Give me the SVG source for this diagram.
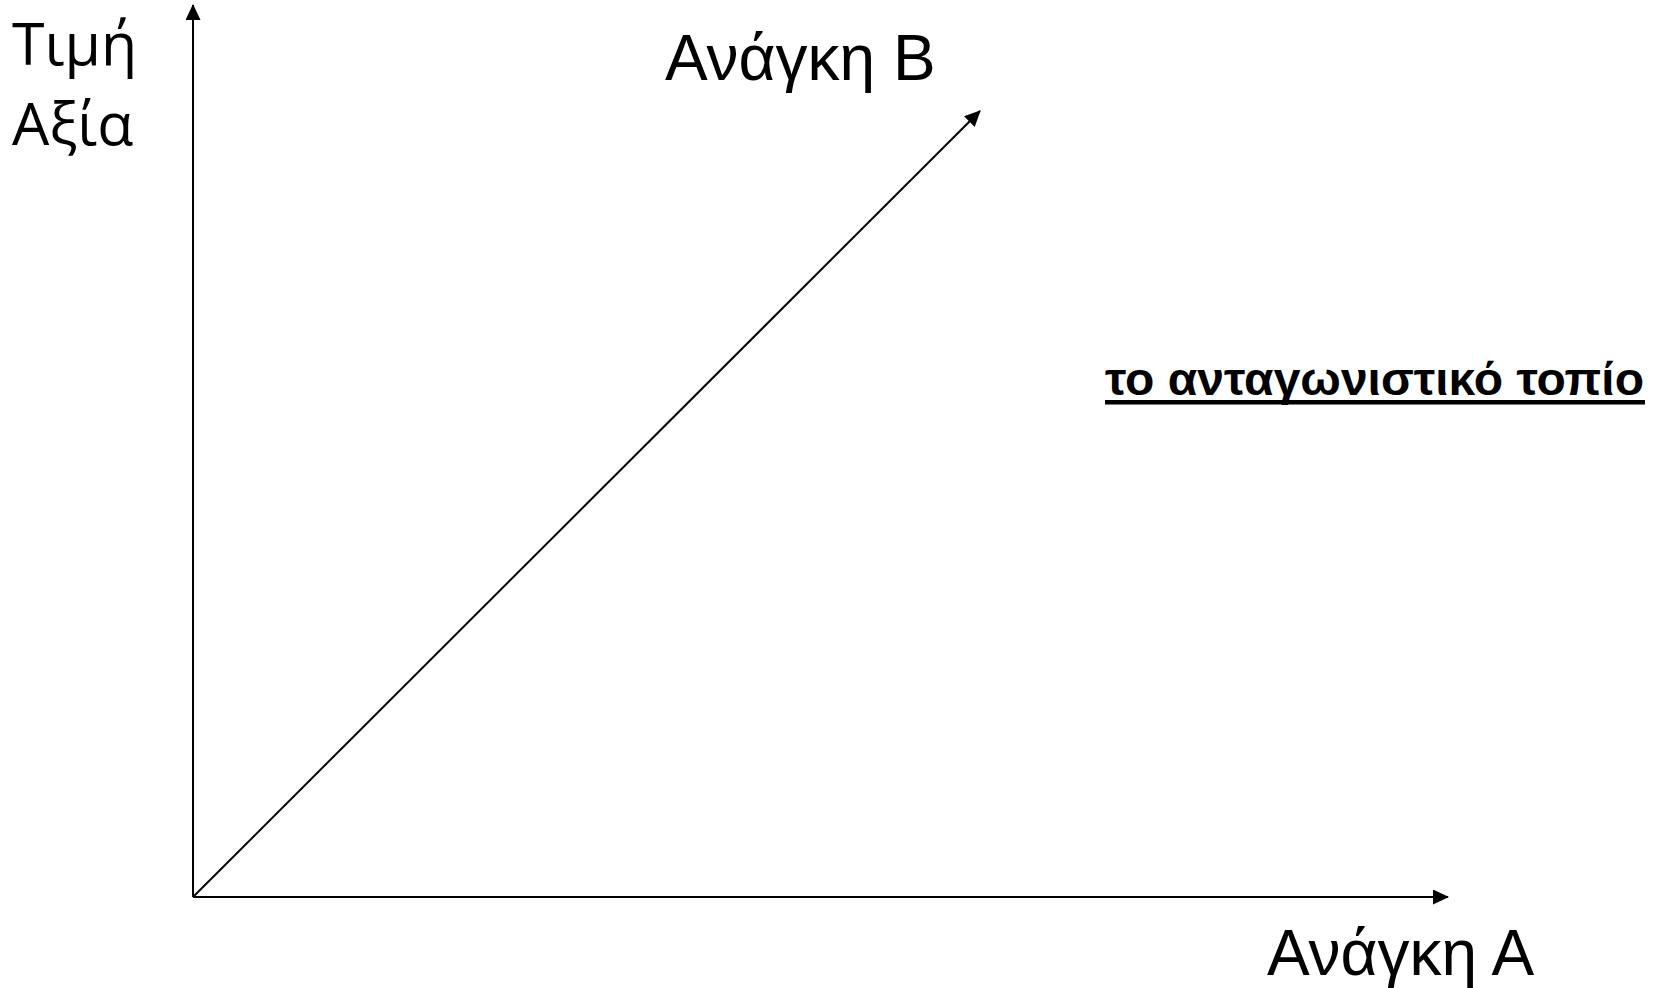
<svg xmlns="http://www.w3.org/2000/svg" width="1659" height="988" viewBox="0 0 1659 988">
<defs>
<marker id="arr" markerUnits="userSpaceOnUse" markerWidth="16" markerHeight="15" refX="15" refY="7.5" orient="auto">
<path d="M0,0 L16,7.5 L0,15 z" fill="#000"/>
</marker>
<style>
.ax{stroke:#000;stroke-width:2;fill:none}
.lbl{font-family:"Liberation Sans",Arial,sans-serif;font-size:64px;fill:#000}
.ylbl{font-family:"Open Sans","Noto Sans",sans-serif;font-size:59px;fill:#000}
.ttl{font-family:"Liberation Sans",Arial,sans-serif;font-weight:bold;font-size:46px;fill:#000}
</style>
</defs>
<rect width="1659" height="988" fill="#fff"/>
<g id="connectors">
<line class="ax" x1="193" y1="897" x2="193" y2="5" marker-end="url(#arr)"/>
<line class="ax" x1="193" y1="897" x2="1448" y2="897" marker-end="url(#arr)"/>
<line class="ax" x1="193" y1="897" x2="980" y2="111" marker-end="url(#arr)"/>
</g>
<g id="y-label">
<text class="ylbl" x="12" y="65">Τιμή</text>
<text class="ylbl" x="12" y="145">Αξία</text>
</g>
<g id="label-b"><text class="lbl" x="665" y="80">Ανάγκη Β</text></g>
<g id="label-a"><text class="lbl" x="1267" y="975">Ανάγκη Α</text></g>
<g id="title">
<text class="ttl" x="1105" y="395" textLength="539" lengthAdjust="spacingAndGlyphs">το ανταγωνιστικό τοπίο</text>
<rect x="1105" y="400" width="540" height="4.5" fill="#000"/>
</g>
</svg>
